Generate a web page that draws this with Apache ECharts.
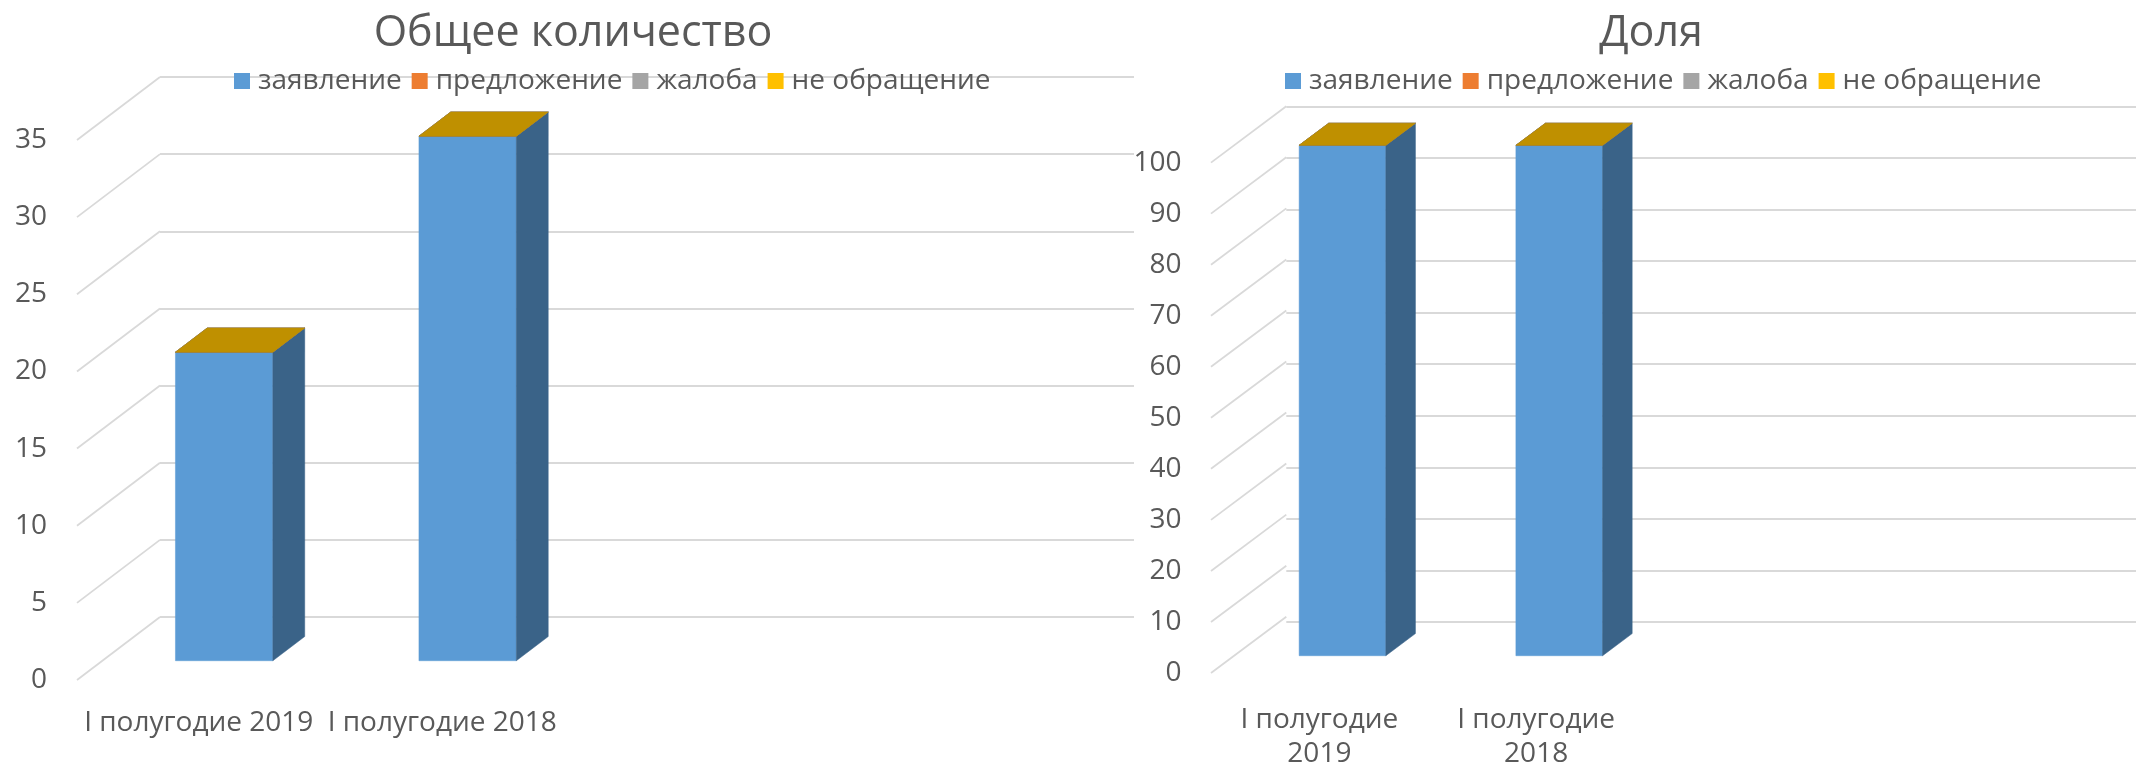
<!DOCTYPE html>
<html><head><meta charset="utf-8">
<script src="https://cdn.jsdelivr.net/npm/echarts@6/dist/echarts.min.js"></script>
<style>html,body{margin:0;padding:0;background:#fff}#c{width:2136px;height:771px}</style>
</head><body><div id="c"></div>
<script>
// ---------- data ----------
const categories = ['I полугодие 2019', 'I полугодие 2018', '', ''];
const seriesNames = ['заявление', 'предложение', 'жалоба', 'не обращение'];
const seriesColors = ['#5B9BD5', '#ED7D31', '#A5A5A5', '#FFC000'];

// Общее количество
const countZayavlenie = [20, 34];
const countPredlozhenie = [0, 0];
const countZhaloba = [0, 0];
const countNeObrashchenie = [0, 0];
const countTickValues = [0, 5, 10, 15, 20, 25, 30, 35];

// Доля
const shareZayavlenie = [100, 100];
const sharePredlozhenie = [0, 0];
const shareZhaloba = [0, 0];
const shareNeObrashchenie = [0, 0];
const shareTickValues = [0, 10, 20, 30, 40, 50, 60, 70, 80, 90, 100];

// ---------- helpers ----------
const FONT = '"Open Sans", "Noto Sans", sans-serif';
const TXT = '#595959';
const GRID_LINE = '#D9D9D9';

function shade(hex, k) {
  const n = parseInt(hex.slice(1), 16);
  const r = Math.round(((n >> 16) & 255) * k), g = Math.round(((n >> 8) & 255) * k), b = Math.round((n & 255) * k);
  return 'rgb(' + r + ',' + g + ',' + b + ')';
}

function boxRenderer(depth, f0, f1, barFrac, color) {
  return function (params, api) {
    const ci = api.value(0), base = api.value(1), top = api.value(2);
    const p0 = api.coord([ci, base]);
    const p1 = api.coord([ci, top]);
    const bw = api.size([1, 0])[0] * barFrac;
    const ox = depth[0] * f0, oy = depth[1] * f0;
    const dx = depth[0] * (f1 - f0), dy = depth[1] * (f1 - f0);
    const xl = p0[0] - bw / 2 + ox, xr = p0[0] + bw / 2 + ox;
    const yb = p0[1] + oy, yt = p1[1] + oy;
    const children = [];
    if (top > base) {
      children.push({ type: 'polygon', shape: { points: [[xl, yb], [xr, yb], [xr, yt], [xl, yt]] },
        style: { fill: color, stroke: color, lineWidth: 0.5 } });
      children.push({ type: 'polygon', shape: { points: [[xr, yb], [xr + dx, yb + dy], [xr + dx, yt + dy], [xr, yt]] },
        style: { fill: shade(color, 0.64), stroke: shade(color, 0.64), lineWidth: 0.5 } });
    }
    children.push({ type: 'polygon', shape: { points: [[xl, yt], [xl + dx, yt + dy], [xr + dx, yt + dy], [xr, yt]] },
      style: { fill: shade(color, 0.75), stroke: shade(color, 0.75), lineWidth: 0.5 } });
    return { type: 'group', children: children };
  };
}

function diagRenderer(depth) {
  return function (params, api) {
    const v = api.value(0);
    const p = api.coord([0, v]);
    const x = params.coordSys.x;
    return { type: 'line', shape: { x1: x, y1: p[1], x2: x + depth[0], y2: p[1] + depth[1] },
      style: { stroke: GRID_LINE, lineWidth: 1.8 } };
  };
}

const option = { animation: false, title: [], legend: [], grid: [], xAxis: [], yAxis: [], series: [] };

function addChart(cfg) {
  const gFront = option.grid.length;
  option.grid.push({ left: cfg.left, top: cfg.top, width: cfg.width, height: cfg.height, containLabel: false });
  option.grid.push({ left: cfg.left + cfg.depth[0], top: cfg.top + cfg.depth[1], width: cfg.width, height: cfg.height, containLabel: false });
  const ax = option.xAxis.length;
  option.xAxis.push({ type: 'category', gridIndex: gFront, data: categories,
    axisLine: { show: false }, axisTick: { show: false },
    axisLabel: { color: TXT, fontFamily: FONT, fontSize: cfg.labelSize, margin: cfg.xLabelMargin, interval: 0,
      lineHeight: cfg.xLineHeight, formatter: cfg.xFormatter } });
  option.xAxis.push({ type: 'category', gridIndex: gFront + 1, data: categories, show: false });
  option.yAxis.push({ type: 'value', gridIndex: gFront, min: cfg.ticks[0], max: cfg.ticks[cfg.ticks.length - 1],
    interval: cfg.ticks[1] - cfg.ticks[0],
    axisLine: { show: false }, axisTick: { show: false }, splitLine: { show: false },
    axisLabel: { color: TXT, fontFamily: FONT, fontSize: cfg.labelSize, margin: cfg.yLabelMargin } });
  option.yAxis.push({ type: 'value', gridIndex: gFront + 1, min: cfg.ticks[0], max: cfg.ticks[cfg.ticks.length - 1],
    interval: cfg.ticks[1] - cfg.ticks[0],
    axisLine: { show: false }, axisTick: { show: false }, axisLabel: { show: false },
    splitLine: { show: true, lineStyle: { color: GRID_LINE, width: 1.8 } } });

  option.series.push({ type: 'custom', name: '_diag', xAxisIndex: ax, yAxisIndex: ax, clip: false, silent: true,
    renderItem: diagRenderer(cfg.depth), data: cfg.ticks.map(v => [v]), z: 1 });

  const cum = cfg.values[0].map(() => 0);
  cfg.values.forEach((vals, si) => {
    const data = vals.map((v, i) => { const b = cum[i]; cum[i] += v; return [i, b, b + v]; });
    option.series.push({ type: 'custom', name: seriesNames[si], xAxisIndex: ax, yAxisIndex: ax, clip: false,
      itemStyle: { color: seriesColors[si] }, z: 2 + si,
      renderItem: boxRenderer(cfg.depth, cfg.f0, cfg.f1, 0.4, seriesColors[si]), data: data });
  });

  option.title.push({ text: cfg.title, left: cfg.titleX, top: cfg.titleTop, textAlign: 'center',
    textStyle: { color: TXT, fontFamily: FONT, fontSize: 43, fontWeight: 'normal' } });
  option.legend.push({ data: seriesNames, left: cfg.legendX, top: cfg.legendTop, selectedMode: false,
    icon: 'rect', itemWidth: 16, itemHeight: 16, itemGap: 10,
    textStyle: { color: TXT, fontFamily: FONT, fontSize: 28, padding: [0, 0, 0, 3] } });
}

addChart({
  title: 'Общее количество', titleX: 568, titleTop: 7, legendX: 229, legendTop: 62,
  left: 77, top: 140, width: 974, height: 540, depth: [83, -63], f0: 0.306, f1: 0.69,
  ticks: countTickValues, labelSize: 28, yLabelMargin: 30, xLabelMargin: 26, xLineHeight: 34,
  values: [countZayavlenie, countPredlozhenie, countZhaloba, countNeObrashchenie]
});
addChart({
  title: 'Доля', titleX: 1646, titleTop: 7, legendX: 1280, legendTop: 62,
  left: 1211, top: 162.6, width: 867, height: 515.7, depth: [75.3, -56.3], f0: 0.307, f1: 0.70,
  ticks: shareTickValues, labelSize: 28, yLabelMargin: 29.5, xLabelMargin: 30, xLineHeight: 34,
  xFormatter: v => v.replace(/ (\d{4})$/, '\n$1'),
  values: [shareZayavlenie, sharePredlozhenie, shareZhaloba, shareNeObrashchenie]
});

const chart = echarts.init(document.getElementById('c'), null, { renderer: 'canvas' });
chart.setOption(option);
</script></body></html>
